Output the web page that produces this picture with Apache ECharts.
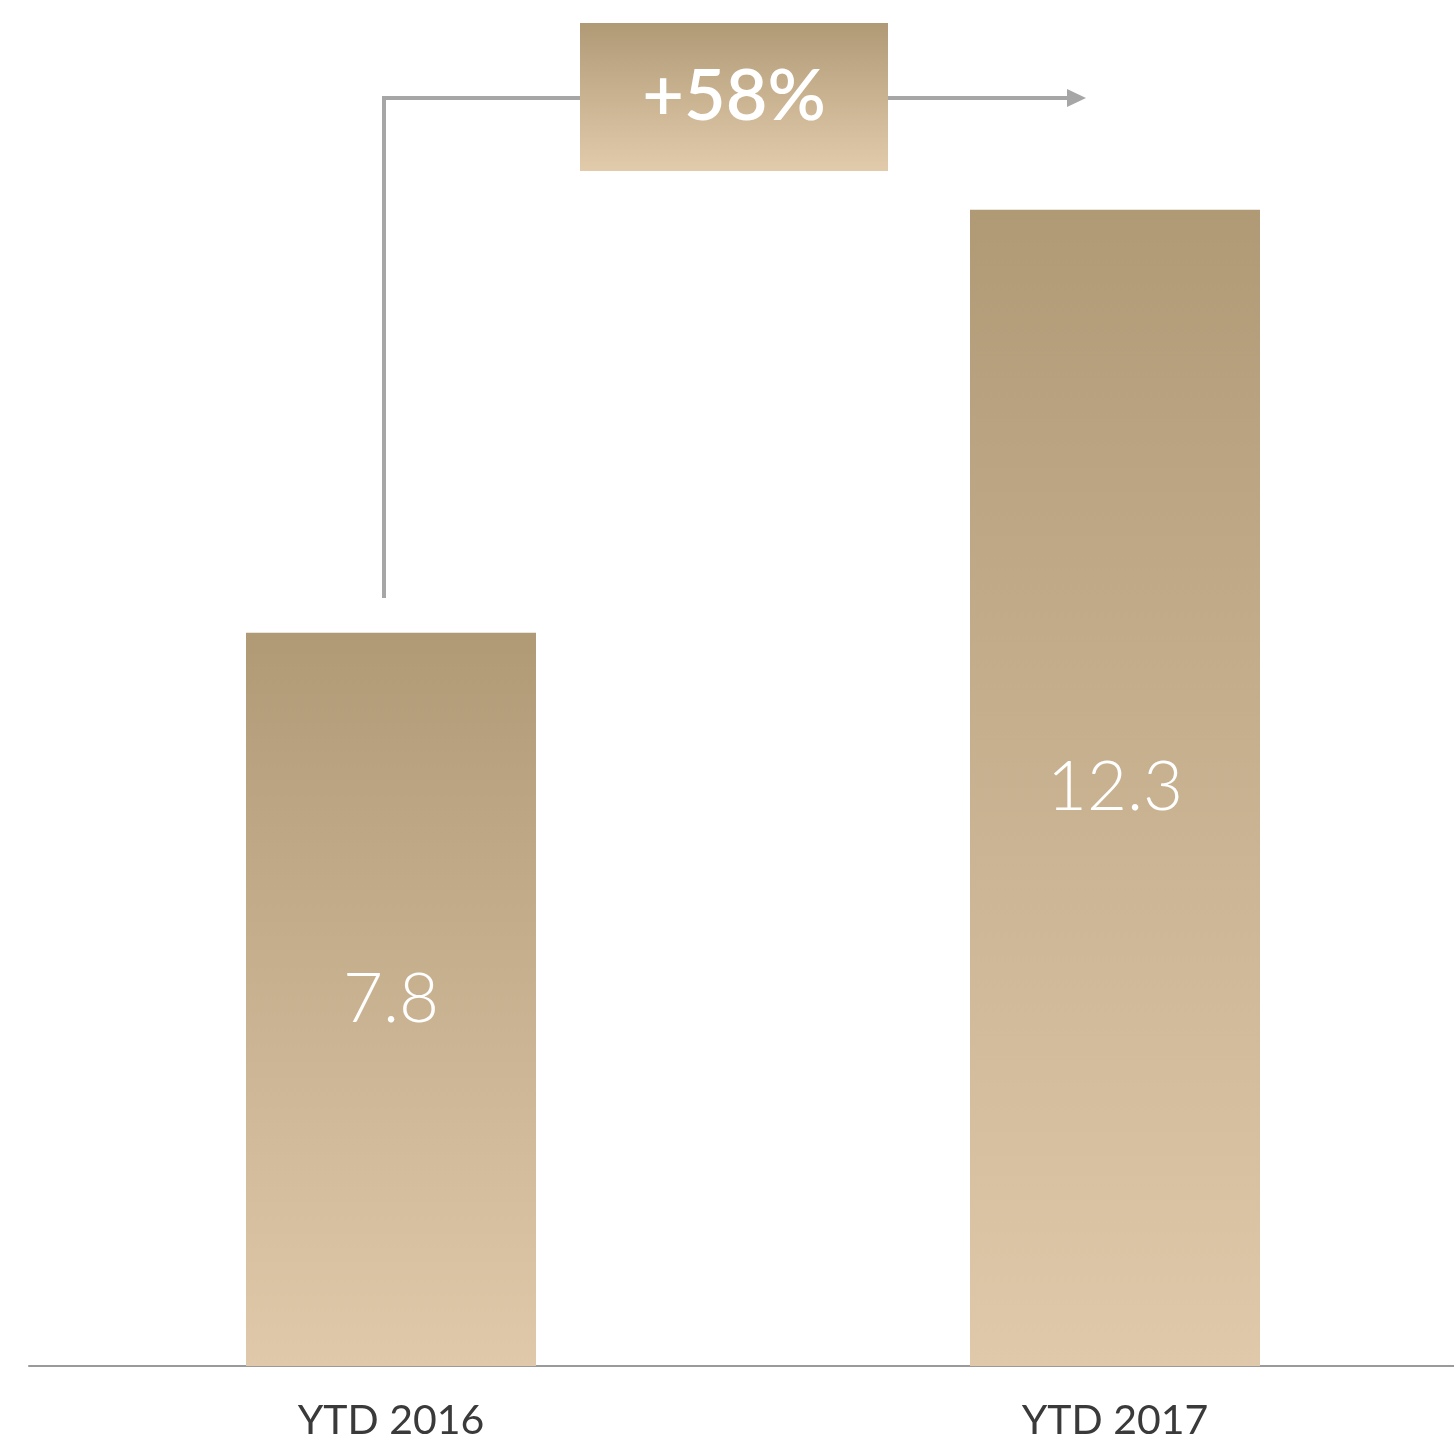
<!DOCTYPE html>
<html>
<head>
<meta charset="utf-8">
<script src="https://cdn.jsdelivr.net/npm/echarts@6/dist/echarts.min.js"></script>
<style>
  html, body { margin: 0; padding: 0; background: #fff; overflow: hidden; }
  /* wider than the window: the axis runs off the right edge like the original */
  #main { width: 1477px; height: 1449px; }
</style>
</head>
<body>
<div id="main"></div>
<script>
// data
var categories = ["YTD 2016", "YTD 2017"];
var values = [7.8, 12.3];
var changeLabel = "+58%";

var barGradient = new echarts.graphic.LinearGradient(0, 0, 0, 1, [
  { offset: 0, color: "#b09a76" },
  { offset: 1, color: "#e0c9aa" },
]);

var myChart = echarts.init(document.getElementById("main"));
myChart.setOption({
  animation: false,
  grid: { left: 29, right: 0, top: 3, bottom: 83 },
  xAxis: {
    type: "category",
    data: categories,
    axisLine: { lineStyle: { color: "#9a9a9a", width: 2 } },
    axisTick: { show: false },
    axisLabel: {
      margin: 34,
      fontSize: 41,
      color: "#3a3a3a",
      fontFamily: "Lato, 'Noto Sans', sans-serif",
    },
  },
  yAxis: {
    type: "value",
    min: 0,
    max: 14.5,
    show: false,
    splitLine: { show: false },
  },
  series: [
    {
      type: "bar",
      data: values,
      barWidth: 290,
      itemStyle: { color: barGradient },
      label: {
        show: true,
        position: "inside",
        color: "#ffffff",
        fontSize: 69,
        fontWeight: 300,
        fontFamily: "Lato, 'Noto Sans', sans-serif",
      },
    },
  ],
  graphic: [
    {
      type: "polyline",
      shape: { points: [[384, 598], [384, 98], [1070, 98]] },
      style: { stroke: "#a6a6a6", lineWidth: 4, fill: null },
      z: 10,
    },
    {
      type: "polygon",
      shape: { points: [[1067, 89], [1086, 98], [1067, 107]] },
      style: { fill: "#a6a6a6" },
      z: 10,
    },
    {
      type: "rect",
      shape: { x: 580, y: 23, width: 308, height: 148 },
      style: {
        fill: new echarts.graphic.LinearGradient(0, 0, 0, 1, [
          { offset: 0, color: "#b09a76" },
          { offset: 1, color: "#e2cbab" },
        ]),
      },
      z: 11,
    },
    {
      type: "text",
      x: 734,
      y: 97,
      style: {
        text: changeLabel,
        fill: "#ffffff",
        fontSize: 72,
        fontWeight: 600,
        fontFamily: "Lato, 'Noto Sans', sans-serif",
        align: "center",
        verticalAlign: "middle",
      },
      z: 12,
    },
  ],
});
</script>
</body>
</html>
